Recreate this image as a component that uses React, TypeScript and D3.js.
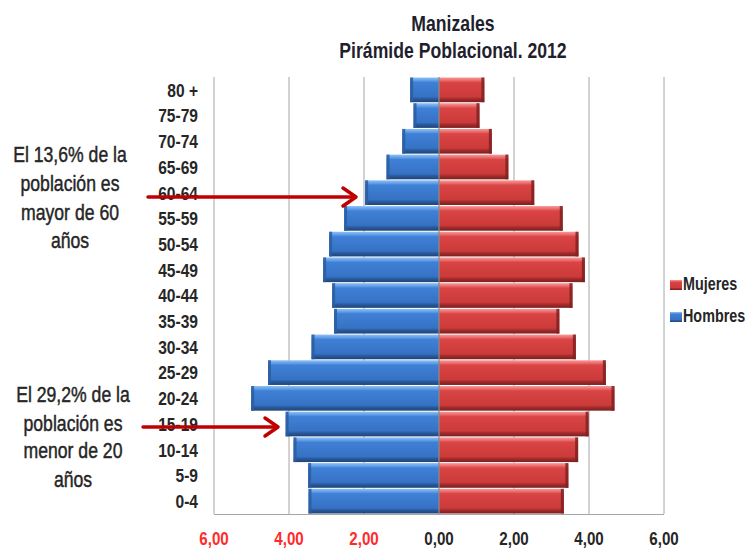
import React from "react";
import * as d3 from "d3";

const categories = ["80 +", "75-79", "70-74", "65-69", "60-64", "55-59", "50-54", "45-49", "40-44", "35-39", "30-34", "25-29", "20-24", "15-19", "10-14", "5-9", "0-4"];
const hombres = [0.77, 0.68, 0.98, 1.40, 1.97, 2.53, 2.93, 3.09, 2.85, 2.80, 3.40, 4.56, 5.01, 4.09, 3.88, 3.49, 3.48];
const mujeres = [1.21, 1.08, 1.41, 1.85, 2.54, 3.30, 3.72, 3.89, 3.56, 3.21, 3.65, 4.45, 4.68, 3.99, 3.71, 3.45, 3.33];
const xTicks = [-6, -4, -2, 0, 2, 4, 6];
const titleLines = ["Manizales", "Pirámide Poblacional. 2012"];
const note1 = ["El 13,6% de la", "población es", "mayor de 60", "años"];
const note2 = ["El 29,2% de la", "población es", "menor de 20", "años"];
const legendItems = [{ label: "Mujeres", key: "m" }, { label: "Hombres", key: "h" }];

const FONT = "'Liberation Sans', Arial, sans-serif";

type NTProps = {
  x: number; y: number; size: number; anchor?: string; weight?: string; fill?: string; dy?: string; stroke?: number; children: React.ReactNode;
};

// Narrow text: Liberation Sans compressed horizontally (like Arial Narrow)
function NText({ x, y, size, anchor = "start", weight = "normal", fill = "#262626", dy, stroke, children }: NTProps) {
  return (
    <text
      transform={`translate(${x},${y}) scale(0.82,1)`}
      textAnchor={anchor as any}
      fontSize={size}
      fontWeight={weight}
      fill={fill}
      stroke={stroke ? fill : undefined}
      strokeWidth={stroke}
      dy={dy}
    >
      {children}
    </text>
  );
}

export default function App() {
  const W = 749, H = 548;
  const x = d3.scaleLinear().domain([-6, 6]).range([214, 664]);
  const y = d3.scaleBand<string>().domain(categories).range([77, 514]).paddingInner(0.04).paddingOuter(0.02);
  const fmt = (v: number) => Math.abs(v).toFixed(2).replace(".", ",");
  const x0 = x(0);
  const cap = 3;

  return (
    <svg width={W} height={H} style={{ position: "absolute", left: 0, top: 0, background: "#fff" }} fontFamily={FONT}>
      <defs>
        <linearGradient id="gBlue" x1="0" y1="0" x2="0" y2="1">
          <stop offset="0" stopColor="#8fc0f5" />
          <stop offset="0.13" stopColor="#5d9be6" />
          <stop offset="0.2" stopColor="#3f80d6" />
          <stop offset="0.78" stopColor="#3672c4" />
          <stop offset="0.86" stopColor="#2a5a9e" />
          <stop offset="1" stopColor="#1f4478" />
        </linearGradient>
        <linearGradient id="gRed" x1="0" y1="0" x2="0" y2="1">
          <stop offset="0" stopColor="#f79a9a" />
          <stop offset="0.13" stopColor="#e96565" />
          <stop offset="0.2" stopColor="#d94444" />
          <stop offset="0.78" stopColor="#cc3a3a" />
          <stop offset="0.86" stopColor="#a42c2c" />
          <stop offset="1" stopColor="#7a1f1f" />
        </linearGradient>
      </defs>

      {/* gridlines */}
      {xTicks.filter((t) => t !== 0).map((t) => (
        <line key={t} x1={x(t)} x2={x(t)} y1={77} y2={514} stroke="#a6a6a6" strokeWidth={1} />
      ))}
      <line x1={x(-6)} x2={x(6)} y1={514.5} y2={514.5} stroke="#a6a6a6" strokeWidth={1} />

      {/* bars */}
      {categories.map((c, i) => {
        const by = y(c)!;
        const bh = y.bandwidth();
        const xl = x(-hombres[i]);
        const xr = x(mujeres[i]);
        return (
          <g key={c}>
            <rect x={xl} y={by} width={x0 - xl} height={bh} fill="url(#gBlue)" />
            <rect x={xl} y={by} width={cap} height={bh} fill="#2c5d9f" opacity={0.85} />
            <rect x={x0} y={by} width={xr - x0} height={bh} fill="url(#gRed)" />
            <rect x={xr - cap} y={by} width={cap} height={bh} fill="#7f2222" opacity={0.85} />
          </g>
        );
      })}
      <line x1={x0} x2={x0} y1={77} y2={514} stroke="#8c8c8c" strokeWidth={1.2} />

      {/* y labels */}
      {categories.map((c) => (
        <NText key={c} x={198} y={y(c)! + y.bandwidth() / 2} dy="0.36em" anchor="end" size={19} weight="bold">
          {c}
        </NText>
      ))}

      {/* x tick labels */}
      {xTicks.map((t) => (
        <NText key={t} x={x(t)} y={545} anchor="middle" size={18.5} weight="bold" fill={t < 0 ? "#ff2b2b" : "#262626"}>
          {fmt(t)}
        </NText>
      ))}

      {/* title */}
      {titleLines.map((l, i) => (
        <NText key={l} x={453} y={31 + i * 27} anchor="middle" size={21.5} weight="bold" fill="#1f1f2e">
          {l}
        </NText>
      ))}

      {/* legend */}
      {legendItems.map((it, i) => (
        <g key={it.key}>
          <rect x={670} y={280 + i * 32} width={12} height={10} fill={it.key === "m" ? "url(#gRed)" : "url(#gBlue)"} />
          <NText x={683} y={290 + i * 32} size={17.5} weight="bold">{it.label}</NText>
        </g>
      ))}

      {/* annotations */}
      {note1.map((l, i) => (
        <NText key={"a" + i} x={70} y={[162, 191, 220, 248][i]} anchor="middle" size={21.5} stroke={0.45}>{l}</NText>
      ))}
      {note2.map((l, i) => (
        <NText key={"b" + i} x={73} y={[402, 431, 458, 487][i]} anchor="middle" size={21.5} stroke={0.45}>{l}</NText>
      ))}

      {/* arrows */}
      <g stroke="#c00000" strokeWidth={3.5} fill="none" strokeLinecap="round" strokeLinejoin="round">
        <line x1={148} y1={197} x2={354} y2={197} />
        <polyline points="343,188 356,197 343,206" />
        <line x1={143} y1={427} x2={276} y2={427} />
        <polyline points="265,418 278,427 265,436" />
      </g>
    </svg>
  );
}
